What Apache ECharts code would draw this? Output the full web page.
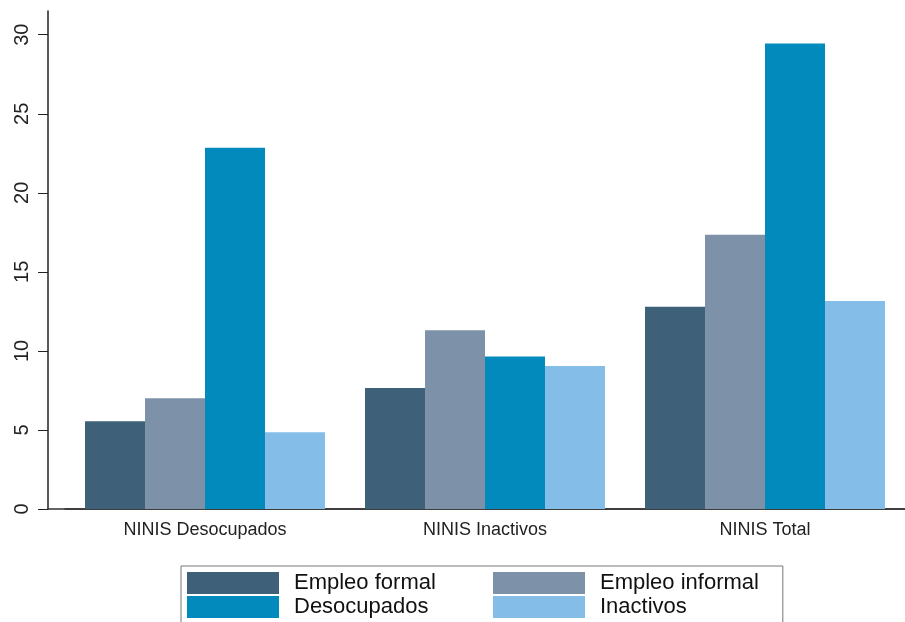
<!DOCTYPE html>
<html>
<head>
<meta charset="utf-8">
<script src="https://cdn.jsdelivr.net/npm/echarts@6/dist/echarts.min.js"></script>
<style>
  html, body { margin: 0; padding: 0; background: #fff; }
  #chart { width: 905px; height: 622px; }
</style>
</head>
<body>
<div id="chart"></div>
<script>
// datos
const categories = ['NINIS Desocupados', 'NINIS Inactivos', 'NINIS Total'];
const empleoFormal = [5.55, 7.65, 12.8];
const empleoInformal = [7.0, 11.3, 17.35];
const desocupados = [22.85, 9.65, 29.45];
const inactivos = [4.85, 9.05, 13.15];
const yTicks = [0, 5, 10, 15, 20, 25, 30];

const colors = ['#3e6179', '#7d92a8', '#028abc', '#84bee8'];
const names = ['Empleo formal', 'Empleo informal', 'Desocupados', 'Inactivos'];
const values = [empleoFormal, empleoInformal, desocupados, inactivos];

const chart = echarts.init(document.getElementById('chart'));

const legendText = {
  fontSize: 22,
  color: '#111',
  padding: [0, 0, 0, 10],
};

const option = {
  animation: false,
  textStyle: { fontFamily: 'Liberation Sans, Arial, sans-serif' },
  grid: [
    { left: 65, right: 0, top: 11, bottom: 113 },
    { left: 48, right: 0, top: 11, bottom: 113 }, // solo para prolongar la linea del eje x
  ],
  legend: [
    {
      // columna izquierda, con el recuadro
      data: [names[0], names[2]],
      orient: 'vertical',
      left: 181,
      top: 566,
      height: 46,
      padding: [6, 347, 10, 6],
      itemWidth: 92,
      itemHeight: 22,
      itemGap: 2,
      borderColor: '#777',
      borderWidth: 1,
      icon: 'rect',
      textStyle: legendText,
    },
    {
      // columna derecha
      data: [names[1], names[3]],
      orient: 'vertical',
      left: 487,
      top: 566,
      height: 46,
      padding: [6, 6, 10, 6],
      itemWidth: 92,
      itemHeight: 22,
      itemGap: 2,
      icon: 'rect',
      textStyle: legendText,
    },
  ],
  xAxis: [
    {
      type: 'category',
      data: categories,
      gridIndex: 0,
      axisLine: { lineStyle: { color: '#333', width: 1.5 } },
      axisTick: { show: false },
      axisLabel: { fontSize: 18, color: '#222', margin: 12 },
    },
    {
      type: 'value',
      gridIndex: 1,
      min: 0,
      max: 1,
      position: 'bottom',
      axisLine: { show: true, onZero: false, lineStyle: { color: '#333', width: 1.5 } },
      axisTick: { show: false },
      axisLabel: { show: false },
      splitLine: { show: false },
    },
  ],
  yAxis: [
    {
      type: 'value',
      gridIndex: 0,
      min: 0,
      max: 31.5,
      interval: 5,
      offset: 17,
      axisLine: { show: true, lineStyle: { color: '#222', width: 1.5 } },
      axisTick: { show: true, length: 10, customValues: yTicks, lineStyle: { color: '#222' } },
      axisLabel: { rotate: 90, fontSize: 20, color: '#222', margin: 16, customValues: yTicks },
      splitLine: { show: false },
    },
    {
      type: 'value', gridIndex: 1, min: 0, max: 1,
      axisLine: { show: false }, axisTick: { show: false },
      axisLabel: { show: false }, splitLine: { show: false },
    },
  ],
  series: names.map((name, i) => ({
    name,
    type: 'bar',
    xAxisIndex: 0,
    yAxisIndex: 0,
    data: values[i],
    barGap: '0%',
    barCategoryGap: '14.3%',
    itemStyle: { color: colors[i] },
  })),
};

chart.setOption(option);
</script>
</body>
</html>
